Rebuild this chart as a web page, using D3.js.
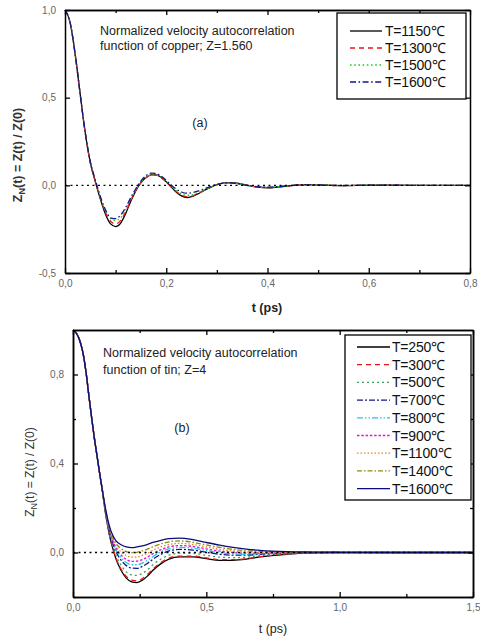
<!DOCTYPE html>
<html><head><meta charset="utf-8">
<script src="https://cdn.jsdelivr.net/npm/d3@7"></script>
<style>
html,body{margin:0;padding:0;background:#fff;}
svg{display:block;font-family:"Liberation Sans",Arial,sans-serif;}
</style></head>
<body>
<svg id="c" width="480" height="636"></svg>
<script>
// ---------- Panel (a): copper ----------
const cuTimes = [0,0.01,0.02,0.03,0.04,0.05,0.06,0.07,0.08,0.09,0.10,0.11,0.12,0.13,0.14,0.15,0.16,0.17,0.18,0.19,0.20,0.21,0.22,0.23,0.24,0.25,0.26,0.28,0.30,0.32,0.34,0.36,0.38,0.40,0.42,0.44,0.46,0.48,0.50,0.55,0.60,0.70,0.80];
const cuLabels = ["T=1150\u2103","T=1300\u2103","T=1500\u2103","T=1600\u2103"];
const cu1150 = [1,0.93,0.75,0.52,0.30,0.13,0.02,-0.08,-0.165,-0.22,-0.235,-0.215,-0.16,-0.09,-0.03,0.015,0.045,0.06,0.06,0.045,0.02,-0.01,-0.04,-0.06,-0.07,-0.065,-0.052,-0.022,0.004,0.015,0.012,0.0,-0.01,-0.014,-0.01,-0.004,0.002,0.004,0.002,-0.002,0.001,0,0];
const cu1300 = [1,0.93,0.75,0.52,0.30,0.13,0.02,-0.075,-0.155,-0.205,-0.22,-0.20,-0.15,-0.085,-0.028,0.015,0.043,0.058,0.058,0.044,0.02,-0.008,-0.035,-0.055,-0.065,-0.062,-0.05,-0.022,0.003,0.014,0.011,0.0,-0.009,-0.013,-0.01,-0.004,0.002,0.004,0.002,-0.002,0.001,0,0];
const cu1500 = [1,0.93,0.75,0.52,0.30,0.13,0.025,-0.07,-0.145,-0.19,-0.20,-0.185,-0.14,-0.08,-0.025,0.017,0.045,0.06,0.06,0.046,0.022,-0.005,-0.03,-0.048,-0.057,-0.055,-0.045,-0.02,0.003,0.013,0.01,0.0,-0.008,-0.011,-0.008,-0.003,0.002,0.003,0.002,-0.001,0.001,0,0];
const cu1600 = [1,0.93,0.75,0.52,0.30,0.135,0.03,-0.065,-0.14,-0.185,-0.19,-0.17,-0.125,-0.07,-0.018,0.025,0.055,0.07,0.068,0.052,0.028,0.0,-0.022,-0.038,-0.045,-0.043,-0.035,-0.015,0.005,0.014,0.01,0.0,-0.007,-0.01,-0.007,-0.003,0.002,0.003,0.002,-0.001,0.001,0,0];
const cuXMajor = [0,0.2,0.4,0.6,0.8];
const cuXMinor = [0.1,0.3,0.5,0.7];
const cuYMajor = [-0.5,0,0.5,1.0];

// ---------- Panel (b): tin ----------
const snTimes = [0,0.02,0.04,0.05,0.06,0.07,0.08,0.09,0.10,0.11,0.12,0.13,0.14,0.15,0.16,0.18,0.20,0.22,0.24,0.26,0.28,0.30,0.33,0.36,0.40,0.45,0.50,0.55,0.60,0.65,0.70,0.80,0.90,1.00,1.20,1.50];
const snLabels = ["T=250\u2103","T=300\u2103","T=500\u2103","T=700\u2103","T=800\u2103","T=900\u2103","T=1100\u2103","T=1400\u2103","T=1600\u2103"];
const sn250  = [1,0.97,0.88,0.80,0.70,0.605,0.515,0.435,0.355,0.28,0.19,0.12,0.06,0.015,-0.025,-0.08,-0.115,-0.132,-0.135,-0.125,-0.105,-0.08,-0.05,-0.03,-0.02,-0.02,-0.028,-0.035,-0.035,-0.03,-0.02,-0.008,-0.002,0,0,0];
const sn300  = [1,0.97,0.88,0.80,0.70,0.605,0.515,0.435,0.355,0.28,0.191,0.122,0.062,0.018,-0.021,-0.074,-0.108,-0.124,-0.127,-0.117,-0.098,-0.074,-0.045,-0.025,-0.016,-0.016,-0.024,-0.032,-0.032,-0.028,-0.019,-0.007,-0.002,0,0,0];
const sn500  = [1,0.97,0.88,0.80,0.70,0.605,0.515,0.435,0.355,0.28,0.194,0.126,0.069,0.027,-0.009,-0.057,-0.087,-0.101,-0.103,-0.094,-0.077,-0.055,-0.029,-0.012,-0.003,-0.004,-0.013,-0.021,-0.023,-0.021,-0.014,-0.006,-0.001,0,0,0];
const sn700  = [1,0.97,0.88,0.80,0.70,0.605,0.515,0.435,0.355,0.28,0.198,0.132,0.078,0.039,0.007,-0.034,-0.059,-0.070,-0.071,-0.063,-0.048,-0.03,-0.008,0.007,0.014,0.011,0.001,-0.008,-0.012,-0.012,-0.008,-0.003,0,0,0,0];
const sn800  = [1,0.97,0.88,0.80,0.70,0.605,0.515,0.435,0.355,0.28,0.20,0.135,0.083,0.045,0.015,-0.023,-0.045,-0.055,-0.055,-0.048,-0.034,-0.018,0.003,0.016,0.023,0.019,0.009,-0.001,-0.006,-0.008,-0.005,-0.002,0,0,0,0];
const sn900  = [1,0.97,0.88,0.80,0.70,0.605,0.515,0.435,0.355,0.28,0.202,0.138,0.087,0.051,0.023,-0.011,-0.031,-0.04,-0.039,-0.032,-0.02,-0.005,0.013,0.025,0.031,0.027,0.016,0.006,0.0,-0.003,-0.002,-0.001,0,0,0,0];
const sn1100 = [1,0.97,0.88,0.80,0.70,0.605,0.515,0.435,0.355,0.28,0.204,0.142,0.092,0.058,0.033,0.003,-0.014,-0.021,-0.020,-0.013,-0.003,0.01,0.026,0.036,0.041,0.036,0.025,0.014,0.007,0.002,0.002,0.001,0.001,0,0,0];
const sn1400 = [1,0.97,0.88,0.80,0.70,0.605,0.515,0.435,0.355,0.28,0.207,0.146,0.098,0.066,0.043,0.018,0.004,-0.001,0.001,0.007,0.016,0.026,0.039,0.048,0.052,0.046,0.034,0.023,0.014,0.008,0.006,0.002,0.001,0.001,0,0];
const sn1600 = [1,0.97,0.88,0.80,0.70,0.605,0.515,0.435,0.355,0.28,0.21,0.15,0.105,0.075,0.055,0.035,0.025,0.022,0.025,0.03,0.037,0.045,0.055,0.062,0.065,0.058,0.045,0.033,0.023,0.015,0.01,0.004,0.002,0.001,0,0];
const snXMajor = [0,0.5,1.0,1.5];
const snXMinor = [0.25,0.75,1.25];
const snYMajor = [0,0.4,0.8];
const snYMinor = [-0.2,0.2,0.6];

// ---------- styles ----------
const cuStyles = [
  {c:"#000000", d:null},
  {c:"#e8161b", d:"5,4"},
  {c:"#19d219", d:"1.6,2.6"},
  {c:"#14148c", d:"6,2.5,1.6,2.5"}
];
const snStyles = [
  {c:"#000000", d:null},
  {c:"#e8161b", d:"5,4"},
  {c:"#3aa060", d:"2,3"},
  {c:"#14148c", d:"6,2,2,2"},
  {c:"#1ec8e8", d:"6,2,1.5,2,1.5,2"},
  {c:"#d41ad4", d:"2.5,1.8"},
  {c:"#e8861a", d:"1.5,2"},
  {c:"#8c8c10", d:"5,2,1.5,2"},
  {c:"#0b0b7a", d:null}
];

const svg = d3.select("#c");
const fmt = v => d3.format(".1f")(v).replace(".", ",").replace("\u2212","-");

function panel(o){
  const x = d3.scaleLinear().domain(o.xd).range([o.L, o.R]);
  const y = d3.scaleLinear().domain(o.yd).range([o.B, o.T]);
  const g = svg.append("g");
  const line = d3.line().x(d => x(d[0])).y(d => y(d[1])).curve(d3.curveMonotoneX);
  o.series.forEach((s, i) => {
    const pts = o.times.map((t, k) => [t, s[k]]);
    g.append("path").attr("d", line(pts)).attr("fill","none")
      .attr("stroke", o.styles[i].c).attr("stroke-width", 1.3)
      .attr("stroke-dasharray", o.styles[i].d);
  });
  g.append("line").attr("x1", x(o.xd[0])).attr("x2", x(o.xd[1]))
    .attr("y1", y(0)).attr("y2", y(0)).attr("stroke","#000")
    .attr("stroke-width",1.4).attr("stroke-dasharray","2,3.5");
  const axStyle = sel => { sel.select(".domain").attr("stroke","#000").attr("stroke-width",1.5);
    sel.selectAll(".tick line").attr("stroke","#000").attr("stroke-width",1.3);
    sel.selectAll("text").attr("fill","#666").style("font-size","10px"); };
  const bottomMaj = g.append("g").attr("transform",`translate(0,${o.B})`)
    .call(d3.axisBottom(x).tickValues(o.xMaj).tickSizeInner(-5).tickSizeOuter(0).tickPadding(7).tickFormat(fmt));
  axStyle(bottomMaj);
  const bottomMin = g.append("g").attr("transform",`translate(0,${o.B})`)
    .call(d3.axisBottom(x).tickValues(o.xMin).tickSizeInner(-3).tickSizeOuter(0).tickFormat(""));
  axStyle(bottomMin);
  const topMaj = g.append("g").attr("transform",`translate(0,${o.T})`)
    .call(d3.axisTop(x).tickValues(o.xMaj).tickSizeInner(-5).tickSizeOuter(0).tickFormat(""));
  axStyle(topMaj);
  const topMin = g.append("g").attr("transform",`translate(0,${o.T})`)
    .call(d3.axisTop(x).tickValues(o.xMin).tickSizeInner(-3).tickSizeOuter(0).tickFormat(""));
  axStyle(topMin);
  const leftMaj = g.append("g").attr("transform",`translate(${o.L},0)`)
    .call(d3.axisLeft(y).tickValues(o.yMaj).tickSizeInner(-5).tickSizeOuter(0).tickPadding(9).tickFormat(fmt));
  axStyle(leftMaj);
  const rightMaj = g.append("g").attr("transform",`translate(${o.R},0)`)
    .call(d3.axisRight(y).tickValues(o.yMaj).tickSizeInner(-5).tickSizeOuter(0).tickFormat(""));
  axStyle(rightMaj);
  if (o.yMin) {
    const lm = g.append("g").attr("transform",`translate(${o.L},0)`)
      .call(d3.axisLeft(y).tickValues(o.yMin).tickSizeInner(-3).tickSizeOuter(0).tickFormat(""));
    axStyle(lm);
    const rm = g.append("g").attr("transform",`translate(${o.R},0)`)
      .call(d3.axisRight(y).tickValues(o.yMin).tickSizeInner(-3).tickSizeOuter(0).tickFormat(""));
    axStyle(rm);
  }
  const lg = g.append("g");
  lg.append("rect").attr("x", o.leg.x).attr("y", o.leg.y).attr("width", o.leg.w).attr("height", o.leg.h)
    .attr("fill","#fff").attr("stroke","#000").attr("stroke-width",1.3);
  o.labels.forEach((lab, i) => {
    const yy = o.leg.r0 + i * o.leg.dy;
    lg.append("line").attr("x1", o.leg.lx1).attr("x2", o.leg.lx2).attr("y1", yy).attr("y2", yy)
      .attr("stroke", o.styles[i].c).attr("stroke-width", 1.3).attr("stroke-dasharray", o.styles[i].d);
    lg.append("text").attr("x", o.leg.tx).attr("y", yy).attr("dy","0.36em")
      .attr("fill","#111").style("font-size","14px").style("letter-spacing","-0.2px").text(lab);
  });
  o.note.forEach((t, i) => {
    g.append("text").attr("x", o.noteX).attr("y", o.noteY + i * o.noteDy).attr("dy","0.36em")
      .attr("fill","#222").style("font-size","12.5px").text(t);
  });
  g.append("text").attr("x", o.tag[0]).attr("y", o.tag[1]).attr("dy","0.36em").attr("text-anchor","middle")
    .attr("fill","#222").style("font-size","12.5px").text(o.tag[2]);
  g.append("text").attr("x", o.xt[0]).attr("y", o.xt[1]).attr("dy","0.36em").attr("text-anchor","middle")
    .attr("fill","#222").style("font-size","12.5px").style("font-weight", o.bold ? "bold" : "normal").text("t (ps)");
  const yt = g.append("text").attr("transform",`translate(${o.yt[0]},${o.yt[1]}) rotate(-90)`)
    .attr("text-anchor","middle").attr("dy","0.36em").attr("fill","#333")
    .style("font-size", o.ytSize).style("font-weight", o.bold ? "bold" : "normal");
  yt.append("tspan").text("Z");
  yt.append("tspan").attr("dy","3").style("font-size","9px").text("N");
  yt.append("tspan").attr("dy","-3").text("(t) = Z(t) / Z(0)");
}

panel({
  xd:[0,0.8], yd:[-0.5,1.0], L:65, R:470, T:10, B:273,
  times: cuTimes, series:[cu1150,cu1300,cu1500,cu1600], styles: cuStyles, labels: cuLabels,
  xMaj: cuXMajor, xMin: cuXMinor, yMaj: cuYMajor, yMin: null,
  leg:{x:337,y:13,w:129,h:86,r0:31,dy:17,lx1:350,lx2:382,tx:385},
  note:["Normalized velocity autocorrelation","function of copper; Z=1.560"], noteX:100, noteY:30, noteDy:15,
  tag:[200,122,"(a)"], xt:[267,307], yt:[17,155], ytSize:"12.5px", bold:true
});
panel({
  xd:[0,1.5], yd:[-0.2,1.0], L:73, R:473, T:330, B:597,
  times: snTimes, series:[sn250,sn300,sn500,sn700,sn800,sn900,sn1100,sn1400,sn1600], styles: snStyles, labels: snLabels,
  xMaj: snXMajor, xMin: snXMinor, yMaj: snYMajor, yMin: snYMinor,
  leg:{x:345,y:335,w:126,h:165,r0:347,dy:17.7,lx1:357,lx2:390,tx:392},
  note:["Normalized velocity autocorrelation","function of tin; Z=4"], noteX:103, noteY:352, noteDy:17,
  tag:[182,427,"(b)"], xt:[273,628], yt:[30,472], ytSize:"12px", bold:false
});
</script>
</body></html>
